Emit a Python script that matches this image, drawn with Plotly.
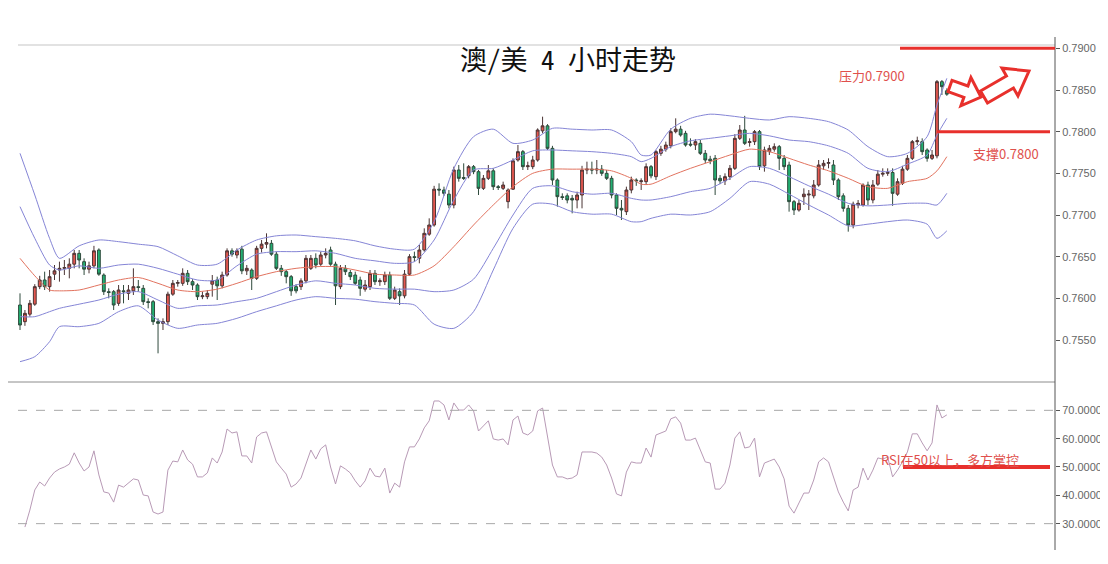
import math
import plotly.graph_objects as go

# ---------------- data ----------------
opens = [0.7592,0.7572,0.7581,0.7593,0.7614,0.7622,0.7614,0.7629,0.7634,0.7636,
         0.7636,0.7641,0.7654,0.7644,0.7635,0.7639,0.7658,0.7628,0.7608,0.7608,
         0.7594,0.7609,0.7606,0.7609,0.7614,0.7612,0.7596,0.7596,0.7572,0.7570,
         0.7572,0.7605,0.7618,0.7618,0.7630,0.7620,0.7616,0.7602,0.7602,0.7617,
         0.7622,0.7615,0.7628,0.7657,0.7652,0.7659,0.7633,0.7634,0.7624,0.7660,
         0.7665,0.7666,0.7653,0.7636,0.7632,0.7626,0.7614,0.7614,0.7621,0.7636,
         0.7648,0.7641,0.7652,0.7658,0.7641,0.7614,0.7636,0.7631,0.7628,0.7622,
         0.7611,0.7614,0.7630,0.7620,0.7620,0.7628,0.7600,0.7608,0.7603,0.7629,
         0.7650,0.7648,0.7658,0.7677,0.7688,0.7731,0.7730,0.7725,0.7712,0.7754,
         0.7745,0.7747,0.7758,0.7752,0.7732,0.7744,0.7753,0.7734,0.7732,0.7716,
         0.7731,0.7766,0.7776,0.7758,0.7758,0.7766,0.7801,0.7807,0.7780,0.7742,
         0.7722,0.7723,0.7720,0.7718,0.7724,0.7754,0.7755,0.7754,0.7755,0.7750,
         0.7744,0.7724,0.7708,0.7704,0.7730,0.7742,0.7740,0.7740,0.7758,0.7746,
         0.7774,0.7779,0.7783,0.7800,0.7803,0.7798,0.7785,0.7784,0.7786,0.7774,
         0.7767,0.7768,0.7744,0.7741,0.7746,0.7756,0.7792,0.7802,0.7787,0.7788,
         0.7800,0.7759,0.7776,0.7779,0.7782,0.7768,0.7760,0.7716,0.7706,0.7722,
         0.7724,0.7723,0.7736,0.7759,0.7762,0.7760,0.7742,0.7723,0.7708,0.7688,
         0.7712,0.7712,0.7736,0.7718,0.7737,0.7749,0.7750,0.7751,0.7725,0.7738,
         0.7755,0.7768,0.7788,0.7788,0.7778,0.7768,0.7771,0.7860,0.7849]
highs = [0.7606,0.7586,0.7598,0.7617,0.7627,0.7632,0.7634,0.7640,0.7644,0.7646,
         0.7648,0.7658,0.7658,0.7648,0.7644,0.7663,0.7660,0.7630,0.7612,0.7610,
         0.7616,0.7616,0.7616,0.7636,0.7622,0.7616,0.7600,0.7598,0.7576,0.7576,
         0.7608,0.7622,0.7622,0.7636,0.7634,0.7623,0.7618,0.7608,0.7610,0.7628,
         0.7626,0.7632,0.7660,0.7660,0.7660,0.7663,0.7640,0.7636,0.7663,0.7670,
         0.7678,0.7670,0.7656,0.7640,0.7634,0.7628,0.7617,0.7624,0.7652,0.7652,
         0.7654,0.7656,0.7660,0.7662,0.7644,0.7640,0.7640,0.7634,0.7632,0.7626,
         0.7622,0.7634,0.7634,0.7624,0.7632,0.7632,0.7614,0.7612,0.7634,0.7653,
         0.7656,0.7664,0.7684,0.7696,0.7735,0.7738,0.7734,0.7730,0.7758,0.7760,
         0.7762,0.7760,0.7760,0.7754,0.7748,0.7760,0.7756,0.7736,0.7740,0.7732,
         0.7768,0.7784,0.7778,0.7764,0.7771,0.7804,0.7818,0.7809,0.7783,0.7744,
         0.7726,0.7726,0.7724,0.7728,0.7759,0.7764,0.7764,0.7766,0.7760,0.7754,
         0.7747,0.7726,0.7718,0.7734,0.7746,0.7744,0.7744,0.7762,0.7760,0.7778,
         0.7783,0.7788,0.7804,0.7816,0.7807,0.7801,0.7792,0.7791,0.7790,0.7778,
         0.7771,0.7772,0.7748,0.7750,0.7760,0.7797,0.7808,0.7819,0.7792,0.7802,
         0.7802,0.7782,0.7784,0.7786,0.7784,0.7772,0.7764,0.7718,0.7718,0.7732,
         0.7730,0.7742,0.7766,0.7766,0.7768,0.7766,0.7744,0.7726,0.7712,0.7716,
         0.7718,0.7738,0.7740,0.7742,0.7754,0.7756,0.7756,0.7756,0.7744,0.7759,
         0.7772,0.7790,0.7794,0.7792,0.7780,0.7778,0.7862,0.7862,0.7852]
lows = [0.7562,0.7567,0.7578,0.7591,0.7611,0.7610,0.7608,0.7622,0.7620,0.7628,
        0.7624,0.7636,0.7636,0.7628,0.7630,0.7636,0.7627,0.7604,0.7600,0.7586,
        0.7591,0.7594,0.7598,0.7604,0.7608,0.7592,0.7588,0.7568,0.7534,0.7562,
        0.7568,0.7603,0.7614,0.7615,0.7616,0.7610,0.7598,0.7599,0.7599,0.7602,
        0.7598,0.7612,0.7626,0.7650,0.7648,0.7629,0.7628,0.7610,0.7622,0.7655,
        0.7660,0.7651,0.7634,0.7627,0.7618,0.7603,0.7606,0.7610,0.7618,0.7634,
        0.7636,0.7639,0.7648,0.7639,0.7592,0.7611,0.7628,0.7622,0.7616,0.7603,
        0.7608,0.7610,0.7616,0.7615,0.7616,0.7598,0.7598,0.7592,0.7600,0.7627,
        0.7644,0.7642,0.7656,0.7675,0.7686,0.7723,0.7723,0.7708,0.7708,0.7740,
        0.7742,0.7744,0.7749,0.7724,0.7730,0.7742,0.7730,0.7730,0.7730,0.7708,
        0.7730,0.7764,0.7754,0.7754,0.7755,0.7764,0.7798,0.7778,0.7736,0.7710,
        0.7718,0.7714,0.7702,0.7708,0.7708,0.7749,0.7749,0.7749,0.7747,0.7742,
        0.7720,0.7700,0.7694,0.7700,0.7726,0.7735,0.7730,0.7736,0.7744,0.7742,
        0.7771,0.7776,0.7780,0.7798,0.7794,0.7782,0.7782,0.7778,0.7772,0.7762,
        0.7761,0.7724,0.7737,0.7736,0.7742,0.7754,0.7790,0.7784,0.7782,0.7784,
        0.7754,0.7752,0.7772,0.7776,0.7754,0.7754,0.7704,0.7700,0.7704,0.7712,
        0.7706,0.7720,0.7734,0.7754,0.7756,0.7736,0.7718,0.7704,0.7680,0.7684,
        0.7708,0.7710,0.7712,0.7714,0.7735,0.7746,0.7747,0.7711,0.7723,0.7736,
        0.7753,0.7766,0.7784,0.7772,0.7764,0.7766,0.7768,0.7844,0.7843]
closes = [0.7568,0.7582,0.7594,0.7614,0.7622,0.7614,0.7626,0.7633,0.7636,0.7637,
          0.7641,0.7654,0.7646,0.7635,0.7639,0.7657,0.7629,0.7608,0.7607,0.7592,
          0.7610,0.7608,0.7610,0.7614,0.7613,0.7596,0.7595,0.7572,0.7570,0.7572,
          0.7605,0.7618,0.7619,0.7630,0.7620,0.7616,0.7602,0.7603,0.7606,0.7621,
          0.7615,0.7628,0.7657,0.7653,0.7657,0.7633,0.7636,0.7624,0.7660,0.7665,
          0.7667,0.7653,0.7636,0.7632,0.7626,0.7609,0.7609,0.7621,0.7648,0.7648,
          0.7640,0.7652,0.7654,0.7641,0.7615,0.7636,0.7632,0.7626,0.7618,0.7612,
          0.7616,0.7630,0.7620,0.7621,0.7628,0.7600,0.7610,0.7603,0.7629,0.7650,
          0.7649,0.7658,0.7678,0.7688,0.7731,0.7730,0.7726,0.7712,0.7754,0.7744,
          0.7744,0.7758,0.7752,0.7732,0.7744,0.7753,0.7734,0.7733,0.7736,0.7730,
          0.7765,0.7776,0.7758,0.7759,0.7766,0.7802,0.7807,0.7780,0.7742,0.7722,
          0.7721,0.7718,0.7718,0.7724,0.7754,0.7755,0.7754,0.7755,0.7750,0.7744,
          0.7724,0.7708,0.7706,0.7730,0.7742,0.7741,0.7741,0.7758,0.7747,0.7776,
          0.7779,0.7784,0.7800,0.7803,0.7796,0.7784,0.7784,0.7788,0.7774,0.7766,
          0.7765,0.7742,0.7741,0.7746,0.7756,0.7792,0.7802,0.7786,0.7788,0.7800,
          0.7758,0.7778,0.7780,0.7782,0.7768,0.7758,0.7716,0.7706,0.7714,0.7725,
          0.7725,0.7736,0.7760,0.7762,0.7763,0.7742,0.7722,0.7708,0.7688,0.7713,
          0.7714,0.7736,0.7718,0.7736,0.7749,0.7750,0.7751,0.7726,0.7740,0.7755,
          0.7768,0.7788,0.7789,0.7776,0.7768,0.7772,0.7860,0.7854,0.7845]

# Bollinger band readings at selected bars
band_idx = [0, 3, 6, 8, 12, 16, 20, 24, 28, 32, 36, 40, 44, 48, 52, 56, 60, 64, 68, 72,
            76, 80, 84, 88, 92, 96, 100, 104, 108, 112, 116, 120, 124, 126, 128, 132, 136,
            140, 144, 148, 152, 156, 160, 164, 168, 172, 176, 180, 184, 186, 188]
band_upper2 = [0.7774,0.7724,0.7672,0.7648,0.7663,0.7670,0.7668,0.7665,0.7662,0.7651,
               0.7640,0.7641,0.7658,0.7670,0.7675,0.7676,0.7674,0.7672,0.7669,0.7663,
               0.7659,0.7659,0.7692,0.7756,0.7794,0.7803,0.7786,0.7790,0.7804,0.7803,
               0.7802,0.7802,0.7788,0.7772,0.7772,0.7803,0.7816,0.7821,0.7819,0.7816,
               0.7814,0.7818,0.7816,0.7812,0.7802,0.7782,0.7770,0.7774,0.7794,0.7832,
               0.7864]
band_upper1 = [0.7710,0.7672,0.7640,0.7634,0.7639,0.7636,0.7640,0.7641,0.7636,0.7629,
               0.7622,0.7622,0.7639,0.7653,0.7656,0.7656,0.7657,0.7654,0.7648,0.7645,
               0.7642,0.7644,0.7670,0.7718,0.7754,0.7756,0.7766,0.7777,0.7778,0.7777,
               0.7776,0.7774,0.7770,0.7764,0.7768,0.7782,0.7789,0.7792,0.7795,0.7798,
               0.7795,0.7790,0.7788,0.7783,0.7774,0.7756,0.7752,0.7761,0.7772,0.7796,
               0.7816]
band_mid = [0.7648,0.7627,0.7610,0.7609,0.7610,0.7616,0.7622,0.7625,0.7618,0.7610,
            0.7608,0.7611,0.7618,0.7626,0.7632,0.7636,0.7638,0.7638,0.7634,0.7629,
            0.7628,0.7628,0.7639,0.7662,0.7688,0.7712,0.7734,0.7750,0.7755,0.7755,
            0.7755,0.7753,0.7744,0.7737,0.7737,0.7747,0.7756,0.7764,0.7772,0.7779,
            0.7776,0.7768,0.7760,0.7753,0.7744,0.7734,0.7732,0.7740,0.7744,0.7753,
            0.7770]
band_lower1 = [0.7578,0.7578,0.7584,0.7588,0.7593,0.7598,0.7605,0.7608,0.7598,0.7588,
               0.7591,0.7592,0.7596,0.7600,0.7608,0.7616,0.7621,0.7618,0.7616,0.7612,
               0.7611,0.7611,0.7608,0.7610,0.7623,0.7660,0.7700,0.7732,0.7735,0.7728,
               0.7725,0.7726,0.7720,0.7718,0.7718,0.7722,0.7728,0.7732,0.7744,0.7758,
               0.7756,0.7746,0.7735,0.7725,0.7714,0.7711,0.7712,0.7714,0.7714,0.7712,
               0.7726]
band_lower2 = [0.7524,0.7530,0.7548,0.7566,0.7566,0.7570,0.7584,0.7591,0.7574,0.7564,
               0.7568,0.7570,0.7576,0.7584,0.7591,0.7598,0.7602,0.7600,0.7599,0.7596,
               0.7594,0.7592,0.7569,0.7564,0.7584,0.7634,0.7684,0.7713,0.7713,0.7704,
               0.7701,0.7701,0.7692,0.7692,0.7696,0.7701,0.7700,0.7704,0.7720,0.7740,
               0.7737,0.7725,0.7712,0.7700,0.7687,0.7689,0.7692,0.7694,0.7689,0.7672,
               0.7681]

# RSI readings, one per bar starting at bar 1
rsi_values = [28.8,34.8,41.9,44.7,43.3,46.1,48.2,49.3,50.0,51.0,
              55.0,51.4,48.6,50.0,55.7,47.2,41.2,40.8,37.6,43.6,
              42.9,44.3,45.8,45.4,40.1,39.8,34.1,33.4,34.1,48.9,
              52.1,51.8,56.0,52.5,51.0,46.5,46.5,47.9,53.2,51.4,
              55.3,63.4,62.0,62.4,53.9,53.9,51.4,60.6,62.0,62.4,
              57.1,51.8,49.6,47.5,42.9,44.0,46.1,51.4,56.0,52.8,
              56.4,57.8,50.0,44.0,50.4,49.3,47.9,45.1,42.9,45.1,
              49.6,46.8,46.5,49.6,40.8,44.3,42.9,51.8,57.1,57.1,
              59.9,63.8,66.3,73.3,73.3,71.9,66.6,72.6,70.1,70.1,
              71.9,69.8,62.7,64.5,66.3,59.9,59.5,59.9,57.8,66.6,
              68.0,62.0,61.3,62.7,69.8,
              70.8,60.6,50.7,46.5,46.5,45.8,46.1,47.2,55.3,55.3,
              55.3,54.9,53.5,50.7,46.1,40.5,39.8,48.2,51.8,51.4,
              51.4,56.7,53.5,61.3,62.0,62.7,67.0,67.7,65.5,59.5,
              59.5,60.2,56.0,51.8,51.4,42.2,42.2,44.3,50.7,60.2,
              62.4,56.7,57.1,60.2,46.5,51.4,52.1,52.8,50.0,45.8,
              36.2,33.7,37.3,40.8,40.8,45.4,51.8,53.2,51.8,46.5,
              41.2,37.6,34.5,41.9,42.9,49.6,45.4,48.9,53.2,52.8,
              53.5,46.5,48.9,51.8,55.3,61.7,61.7,58.5,55.7,58.5,
              71.9,67.3,68.4]

price_ticks = [0.7550, 0.7600, 0.7650, 0.7700, 0.7750, 0.7800, 0.7850, 0.7900]
rsi_ticks = [30, 40, 50, 60, 70]
resistance = 0.7900
support = 0.7800
rsi_mid = 50
rsi_levels = [70, 30]

title_text = "澳/美 4 小时走势"
resist_label = "压力0.7900"
support_label = "支撑0.7800"
rsi_label = "RSI在50以上，多方掌控"

# ---------------- layout geometry (page pixels) ----------------
PAGE_W, PAGE_H = 1108, 564
OFF = 8                       # default body margin of the page
W, H = PAGE_W - OFF, PAGE_H - OFF
PL, PR, PT, PB = 18, 1055, 45, 550    # plot area in page pixels
L, T = PL - OFF, PT - OFF
R, B = (OFF + W) - PR, (OFF + H) - PB
PW, PH = PR - PL, PB - PT
SPLIT = 382  # page row of panel separator
rsi_top = (PB - SPLIT) / PH

def px(x):
    return (x - PL) / PW

def py(y):
    return (PB - y) / PH

bars = list(range(len(opens)))
rsi_x = list(range(1, len(rsi_values) + 1))
x_lo = (PL - 20) / 4.93
x_hi = (PR - 20) / 4.93

RED = "#e8302c"
TXT_RED = "#e0504c"
BLUE = "#8585d6"

fig = go.Figure()

for vals in (band_upper2, band_upper1, band_lower1, band_lower2):
    fig.add_trace(go.Scatter(x=band_idx, y=vals, mode="lines",
                             line=dict(color=BLUE, width=1, shape="spline", smoothing=0.7),
                             hoverinfo="skip", showlegend=False, xaxis="x", yaxis="y"))
fig.add_trace(go.Scatter(x=band_idx, y=band_mid, mode="lines",
                         line=dict(color="#e2735f", width=1, shape="spline", smoothing=0.7),
                         hoverinfo="skip", showlegend=False, xaxis="x", yaxis="y"))

fig.add_trace(go.Candlestick(
    x=bars, open=opens, high=highs, low=lows, close=closes,
    increasing=dict(line=dict(color="#4a3434", width=1), fillcolor="#e5574f"),
    decreasing=dict(line=dict(color="#2f4a3c", width=1), fillcolor="#22b072"),
    whiskerwidth=0, showlegend=False, xaxis="x", yaxis="y"))

fig.add_trace(go.Scatter(x=rsi_x, y=rsi_values, mode="lines",
                         line=dict(color="#b89ab6", width=1),
                         hoverinfo="skip", showlegend=False, xaxis="x", yaxis="y2"))

shapes = []
shapes.append(dict(type="line", xref="paper", yref="paper", x0=0, x1=1, y0=1, y1=1,
                   line=dict(color="#e2e2e2", width=2)))
shapes.append(dict(type="line", xref="paper", yref="paper", x0=px(0), x1=1, y0=rsi_top, y1=rsi_top,
                   line=dict(color="#8c8c8c", width=1)))
shapes.append(dict(type="line", xref="paper", yref="paper", x0=1, x1=1, y0=0, y1=py(37),
                   line=dict(color="#555555", width=1)))
for lv in rsi_levels:
    shapes.append(dict(type="line", xref="paper", yref="y2", x0=0, x1=1, y0=lv, y1=lv,
                       line=dict(color="#a8a8a8", width=1, dash="dash")))
shapes.append(dict(type="line", xref="paper", yref="y", x0=px(900), x1=px(1055),
                   y0=resistance, y1=resistance, line=dict(color=RED, width=3)))
shapes.append(dict(type="line", xref="paper", yref="y", x0=px(937), x1=px(1050),
                   y0=support, y1=support, line=dict(color=RED, width=3)))
shapes.append(dict(type="line", xref="paper", yref="y2", x0=px(903), x1=px(1050),
                   y0=rsi_mid, y1=rsi_mid, line=dict(color=RED, width=4)))

def block_arrow(tail, tip, bh, hh, hl):
    tx, ty = tail
    ex, ey = tip
    d = math.hypot(ex - tx, ey - ty)
    ux, uy = (ex - tx) / d, (ey - ty) / d
    nx, ny = -uy, ux
    kx, ky = ex - ux * hl, ey - uy * hl
    pts = [(tx + nx * bh, ty + ny * bh), (kx + nx * bh, ky + ny * bh),
           (kx + nx * hh, ky + ny * hh), (ex, ey),
           (kx - nx * hh, ky - ny * hh), (kx - nx * bh, ky - ny * bh),
           (tx - nx * bh, ty - ny * bh)]
    path = "M " + " L ".join(f"{px(a):.5f},{py(b):.5f}" for a, b in pts) + " Z"
    return dict(type="path", xref="paper", yref="paper", path=path,
                fillcolor="white", line=dict(color=RED, width=3))

shapes.append(block_arrow((950, 86), (981, 97), 6, 15, 16))
shapes.append(block_arrow((984, 97), (1029, 71), 7, 16, 22))

annotations = [
    dict(text=title_text, xref="paper", yref="paper", x=px(568), y=py(58),
         xanchor="center", yanchor="middle", showarrow=False,
         font=dict(family="Noto Sans Mono CJK SC, Noto Sans CJK SC", size=27, color="#111111")),
    dict(text=resist_label, xref="paper", yref="paper", x=px(872), y=py(75),
         xanchor="center", yanchor="middle", showarrow=False,
         font=dict(family="Noto Sans CJK SC", size=13, color=TXT_RED)),
    dict(text=support_label, xref="paper", yref="paper", x=px(1006), y=py(153),
         xanchor="center", yanchor="middle", showarrow=False,
         font=dict(family="Noto Sans CJK SC", size=13, color=TXT_RED)),
    dict(text=rsi_label, xref="paper", yref="paper", x=px(950), y=py(459),
         xanchor="center", yanchor="middle", showarrow=False,
         font=dict(family="Noto Sans CJK SC", size=13, color=TXT_RED)),
]

axis_font = dict(family="Liberation Sans, Arial", size=11, color="#666666")
fig.update_layout(
    width=W, height=H,
    margin=dict(l=L, r=R, t=T, b=B),
    paper_bgcolor="white", plot_bgcolor="white",
    showlegend=False,
    boxgap=0.18,
    xaxis=dict(domain=[0, 1], range=[x_lo, x_hi], visible=False, anchor="y2",
               rangeslider=dict(visible=False)),
    yaxis=dict(domain=[rsi_top, 1], range=[0.74996, 0.7904], side="right", anchor="x",
               tickvals=price_ticks, tickformat=".4f", ticks="outside", ticklen=4,
               tickcolor="#555555", showline=False, showgrid=False, zeroline=False,
               tickfont=axis_font, automargin=False),
    yaxis2=dict(domain=[0, rsi_top], range=[20.7, 80.0], side="right", anchor="x",
                tickvals=rsi_ticks, tickformat=".4f", ticks="outside", ticklen=4,
                tickcolor="#555555", showline=False, showgrid=False, zeroline=False,
                tickfont=axis_font, automargin=False),
    shapes=shapes,
    annotations=annotations,
)

fig.write_html("out.html")
